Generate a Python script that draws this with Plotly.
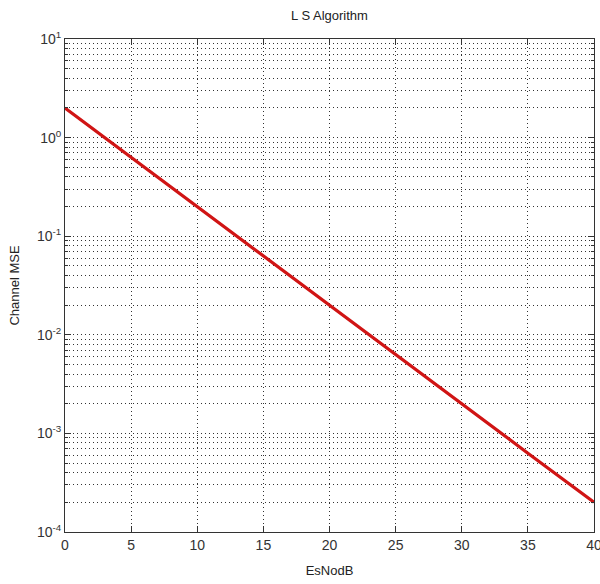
import plotly.graph_objects as go

esno_db = [0, 5, 10, 15, 20, 25, 30, 35, 40]
channel_mse = [2.0, 0.63, 0.2, 0.063, 0.02, 0.0063, 0.002, 0.00063, 0.0002]

y_tick_vals = [1e-4, 1e-3, 1e-2, 1e-1, 1e0, 1e1]
y_tick_text = ["10<sup>-4</sup>", "10<sup>-3</sup>", "10<sup>-2</sup>",
               "10<sup>-1</sup>", "10<sup>0</sup>", "10<sup>1</sup>"]
x_tick_vals = [0, 5, 10, 15, 20, 25, 30, 35, 40]

fig = go.Figure()
fig.add_trace(go.Scatter(x=esno_db, y=channel_mse, mode="lines",
                         line=dict(color="#d01414", width=3.2)))

fam = "Liberation Sans, Arial, sans-serif"
axis_font = dict(family=fam, size=14, color="#333")
grid_dash = "1px,3px"

fig.update_layout(
    width=600, height=584,
    margin=dict(l=65, r=6, t=39, b=52, autoexpand=False),
    paper_bgcolor="white", plot_bgcolor="white",
    showlegend=False,
    title=dict(text="L S Algorithm", x=0.5, xref="paper", xanchor="center",
               y=1 - 15 / 584, yref="container", yanchor="middle",
               font=dict(family=fam, size=13, color="#222")),
    xaxis=dict(range=[0, 40], tickvals=x_tick_vals, ticks="inside", ticklen=6,
               tickcolor="#333", showline=True, linecolor="#333", linewidth=1, mirror="ticks",
               showgrid=True, gridcolor="#333", griddash=grid_dash, gridwidth=1,
               zeroline=False, tickfont=axis_font, automargin=False,
               ticklabeloverflow="allow",
               title=dict(text="EsNodB", font=dict(family=fam, size=13, color="#222"), standoff=14)),
    yaxis=dict(type="log", range=[-4, 1], tickvals=y_tick_vals, ticktext=y_tick_text,
               ticks="inside", ticklen=6, tickcolor="#333",
               showline=True, linecolor="#333", linewidth=1, mirror="ticks",
               showgrid=True, gridcolor="#333", griddash=grid_dash, gridwidth=1,
               zeroline=False, tickfont=axis_font, automargin=False,
               ticklabeloverflow="allow",
               minor=dict(ticks="inside", ticklen=3, tickcolor="#333", showgrid=True,
                          gridcolor="#333", griddash=grid_dash, gridwidth=1,
                          tickvals=[m * 10 ** e for e in range(-4, 1) for m in range(2, 10)]),
               title=dict(text="Channel MSE", font=dict(family=fam, size=13, color="#222"), standoff=14)),
)

fig.write_html("out.html", config={"displayModeBar": False},
               post_script="document.body.style.margin='0';document.body.style.overflow='hidden';")
